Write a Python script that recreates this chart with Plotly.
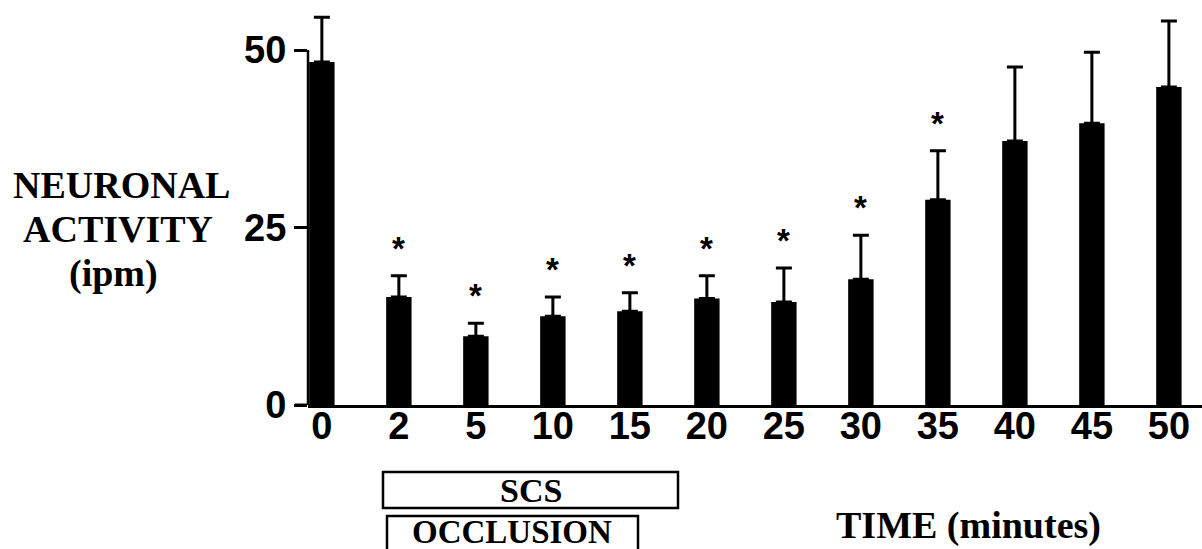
import plotly.graph_objects as go

categories = ["0", "2", "5", "10", "15", "20", "25", "30", "35", "40", "45", "50"]
means = [48.3, 15.2, 9.7, 12.5, 13.2, 15.0, 14.5, 17.7, 28.9, 37.2, 39.7, 44.8]
sem = [6.3, 3.0, 1.8, 2.7, 2.6, 3.2, 4.8, 6.2, 6.9, 10.4, 10.0, 9.3]
significant = [False, True, True, True, True, True, True, True, True, False, False, False]
y_ticks = [0, 25, 50]

W, H = 1202, 549
px_left, px_right = 308, 1202
px_top, px_bottom = 10, 405
units_per_px = 50 / (405 - 50)

fig = go.Figure()
fig.add_trace(go.Bar(
    x=categories, y=means, width=0.33,
    marker=dict(color="black", line=dict(width=0)),
    error_y=dict(type="data", symmetric=False, array=sem,
                 arrayminus=[0] * len(sem), color="black",
                 thickness=3, width=8),
    showlegend=False,
))

annotations = []
for i, (m, e, s) in enumerate(zip(means, sem, significant)):
    if s:
        annotations.append(dict(
            x=i, y=m + e, xref="x", yref="y", text="*", showarrow=False,
            yanchor="bottom", yshift=7,
            font=dict(family="Liberation Sans", size=33, color="black", weight="bold"),
        ))

serif = dict(family="Liberation Serif", color="black", weight="bold")
ylabel_lines = [("NEURONAL", 122, 185), ("ACTIVITY", 118, 229), ("(ipm)", 113, 273)]
for txt, cx, cy in ylabel_lines:
    annotations.append(dict(
        x=cx / W, y=1 - cy / H, xref="paper", yref="paper", text=txt,
        showarrow=False, xanchor="center", yanchor="middle",
        font=dict(size=38, **serif)))

annotations += [
    dict(x=531 / W, y=1 - 490 / H, xref="paper", yref="paper", text="SCS",
         showarrow=False, xanchor="center", yanchor="middle",
         font=dict(size=34, **serif)),
    dict(x=512 / W, y=1 - 532 / H, xref="paper", yref="paper", text="OCCLUSION",
         showarrow=False, xanchor="center", yanchor="middle",
         font=dict(size=33, **serif)),
    dict(x=969 / W, y=1 - 525 / H, xref="paper", yref="paper", text="TIME (minutes)",
         showarrow=False, xanchor="center", yanchor="middle",
         font=dict(size=38, **serif)),
]

shapes = [
    dict(type="line", xref="x domain", yref="y", x0=0, x1=0, y0=0, y1=50,
         line=dict(color="black", width=2.5)),
    dict(type="line", xref="paper", yref="y", x0=295 / W, x1=px_left / W, y0=0, y1=0,
         line=dict(color="black", width=3)),
    dict(type="rect", xref="paper", yref="paper", x0=383 / W, x1=678 / W,
         y0=1 - 508 / H, y1=1 - 472 / H, line=dict(color="black", width=2.5)),
    dict(type="rect", xref="paper", yref="paper", x0=387 / W, x1=638 / W,
         y0=1 - 560 / H, y1=1 - 516 / H, line=dict(color="black", width=2.5)),
]

tickfont = dict(family="Liberation Sans", size=38, color="black", weight="bold")
fig.update_layout(
    width=W, height=H,
    margin=dict(l=0, r=0, t=0, b=0),
    paper_bgcolor="white", plot_bgcolor="white",
    xaxis=dict(
        type="category", domain=[px_left / W, px_right / W],
        range=[-0.18, 11.43], showgrid=False, zeroline=False,
        showline=True, linecolor="black", linewidth=3,
        ticks="", tickfont=tickfont, automargin=False,
        ticklabelstandoff=-15,
    ),
    yaxis=dict(
        domain=[1 - px_bottom / H, 1 - px_top / H],
        range=[0, (px_bottom - px_top) * units_per_px],
        tickvals=y_ticks, ticktext=[str(t) for t in y_ticks],
        showgrid=False, zeroline=False, showline=False,
        ticks="outside", ticklen=13, tickwidth=2.5, tickcolor="black",
        tickfont=tickfont, automargin=False,
    ),
    annotations=annotations,
    shapes=shapes,
)

fig.write_html("out.html")
